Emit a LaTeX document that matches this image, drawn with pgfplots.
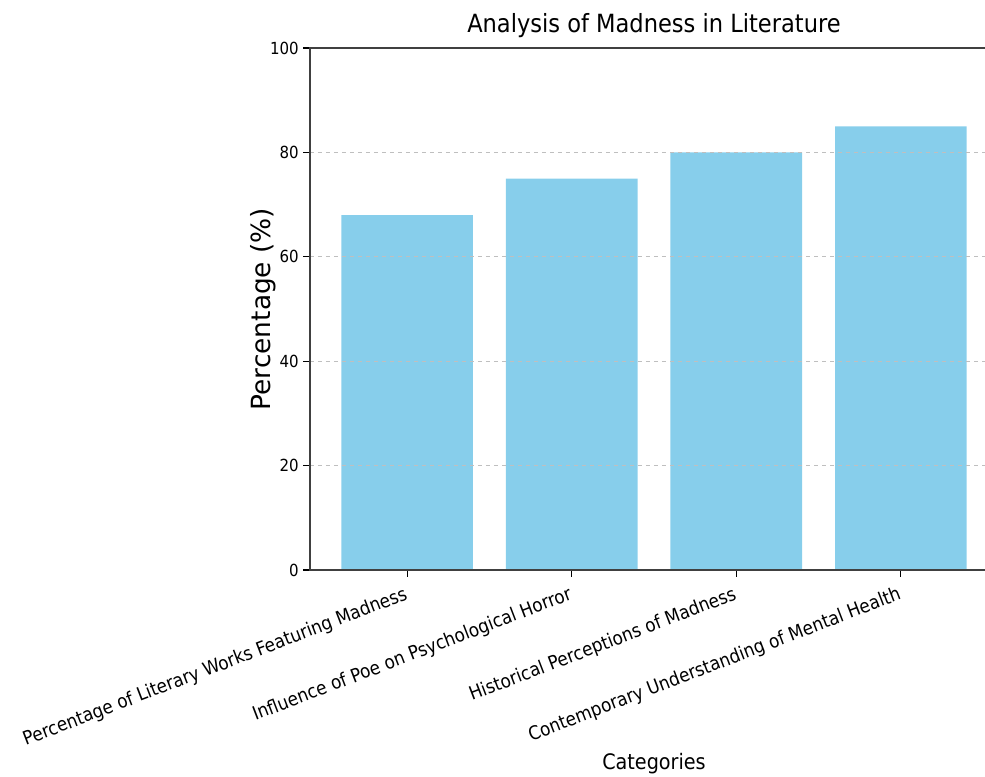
\documentclass[border=0pt]{standalone}
\usepackage{fontspec}
\setmainfont{DejaVu Sans Condensed}
\newfontfamily\widefont{DejaVu Sans}
\usepackage{pgfplots}
\pgfplotsset{compat=1.18}
\definecolor{skyblue}{HTML}{87CEEB}
\begin{document}
\begin{tikzpicture}
\begin{axis}[
    at={(0pt,0pt)}, anchor=south west,
    scale only axis,
    width=516pt, height=391.5pt,
    xmin=-0.59, xmax=3.59,
    ymin=0, ymax=100,
    xtick={0,1,2,3},
    xticklabels={Percentage of Literary Works Featuring Madness,
                 Influence of Poe on Psychological Horror,
                 Historical Perceptions of Madness,
                 Contemporary Understanding of Mental Health},
    x tick label style={rotate=21, anchor=north east, font=\fontsize{14.1}{16}\selectfont,
                        inner sep=1pt, xshift=-4pt, yshift=-4pt},
    ytick={0,20,40,60,80,100},
    y tick label style={font=\fontsize{12.5}{15}\selectfont},
    /pgf/number format/assume math mode=true,
    tick pos=lower,
    tick align=outside,
    major tick length=5pt,
    tick style={black, line width=0.8pt},
    axis line style={black!75, line width=1pt},
    ymajorgrids=true,
    grid style={dashed, black!25, line width=0.7pt},
    axis on top,
    title={Analysis of Madness in Literature},
    title style={font=\fontsize{18.8}{22}\selectfont, yshift=-2pt},
    xlabel={Categories},
    xlabel style={font=\fontsize{16}{19}\selectfont},
    xlabel shift=-2pt,
    ylabel={Percentage (\%)},
    ylabel style={font=\widefont\fontsize{19.8}{23}\selectfont},
    ylabel shift=-11pt,
]
\addplot[ybar, bar width=0.8, fill=skyblue, draw=none] coordinates {
    (0,68) (1,75) (2,80) (3,85)
};
\end{axis}
\pgfresetboundingbox
\useasboundingbox (-232.5pt,-154.5pt) rectangle (506.25pt,427.5pt);
\end{tikzpicture}
\end{document}
